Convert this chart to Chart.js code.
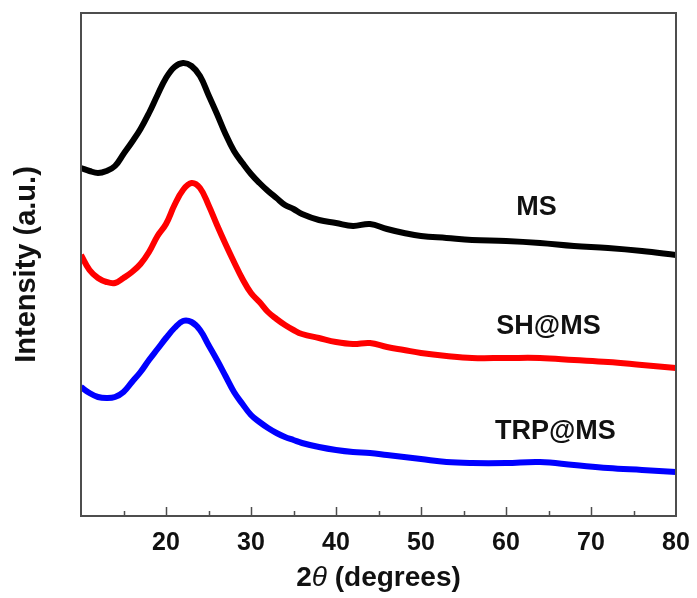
<!DOCTYPE html>
<html>
<head>
<meta charset="utf-8">
<script src="https://cdn.jsdelivr.net/npm/chart.js@4/dist/chart.umd.min.js"></script>
<style>
  html, body { margin: 0; padding: 0; background: #fff; }
  #wrap { width: 697px; height: 598px; }
</style>
</head>
<body>
<div id="wrap"><canvas id="xrdChart"></canvas></div>
<script>
// 2-theta positions (degrees) the curves were read at
const twoTheta = [10, 11, 12, 13, 14, 15, 16, 17, 18, 19, 20, 21, 22, 23, 24, 25, 26, 27, 28, 29,
                  30, 31, 32, 33, 34, 35, 36, 38, 40, 42, 44, 46, 48, 50, 53, 56, 60, 64, 68, 72, 76, 80];

// intensities (a.u., curves already offset as in the figure)
const msValues = [348, 345, 343, 345, 350, 362, 374, 387, 403, 421, 438, 449, 453, 450, 440, 421, 402, 382, 365, 353,
                  342, 333, 325, 318, 311, 307, 302, 296, 293, 290, 292, 287, 283, 280, 278, 276, 275, 273, 270, 268, 265, 261];
const shValues = [261, 246, 238, 234, 233, 238, 244, 252, 264, 280, 292, 311, 326, 333, 328, 311, 291, 272, 254, 237,
                  223, 214, 204, 197, 191, 186, 182, 178, 174, 172, 173, 169, 166, 163, 160, 158, 158, 158, 156, 154, 151, 148];
const trpValues = [129, 123, 119, 118, 119, 124, 134, 144, 156, 167, 178, 188, 195, 194, 186, 171, 156, 140, 124, 112,
                   101, 94, 88, 83, 79, 76, 73, 69, 66, 64, 63, 61, 59, 57, 54, 53, 53, 54, 51, 48, 46, 44];

const seriesNames = ['MS', 'SH@MS', 'TRP@MS'];
const seriesColors = ['#000000', '#ff0000', '#0000ff'];

const FONT = "'Liberation Sans', Arial, sans-serif";

function toPoints(values) {
    return twoTheta.map((t, i) => ({ x: t, y: values[i] }));
}

// frame, inward ticks, curve labels and the x title with italic theta
const decorations = {
    id: 'decorations',
    afterDatasetsDraw(chart) {
        const ctx = chart.ctx;
        const area = chart.chartArea;
        const xs = chart.scales.x;
        const ys = chart.scales.y;

        ctx.save();
        ctx.strokeStyle = '#4d4d4d';
        ctx.lineWidth = 2;
        ctx.strokeRect(area.left, area.top, area.right - area.left, area.bottom - area.top);

        ctx.lineWidth = 1.5;
        for (let v = 15; v < 80; v += 5) {
            const px = Math.round(xs.getPixelForValue(v)) + 0.5;
            const len = v % 10 === 0 ? 9 : 5;
            ctx.beginPath();
            ctx.moveTo(px, area.bottom);
            ctx.lineTo(px, area.bottom - len);
            ctx.stroke();
        }

        // curve labels
        const anchors = [[63.6, 308], [65.0, 189], [65.8, 84]];
        ctx.fillStyle = '#111';
        ctx.font = 'bold 27px ' + FONT;
        ctx.textAlign = 'center';
        ctx.textBaseline = 'middle';
        seriesNames.forEach((name, i) => {
            ctx.fillText(name, xs.getPixelForValue(anchors[i][0]), ys.getPixelForValue(anchors[i][1]));
        });

        // x axis title: "2θ (degrees)"
        const parts = [
            { text: '2', font: 'bold 28px ' + FONT },
            { text: '\u03B8', font: 'italic 28px ' + FONT },
            { text: ' (degrees)', font: 'bold 28px ' + FONT }
        ];
        let total = 0;
        parts.forEach(p => { ctx.font = p.font; p.w = ctx.measureText(p.text).width; total += p.w; });
        let x = (area.left + area.right) / 2 - total / 2;
        ctx.textAlign = 'left';
        ctx.textBaseline = 'alphabetic';
        parts.forEach(p => {
            ctx.font = p.font;
            ctx.fillText(p.text, x, 586);
            x += p.w;
        });
        ctx.restore();
    }
};

const ctx = document.getElementById('xrdChart').getContext('2d');
const xrdChart = new Chart(ctx, {
    type: 'line',
    data: {
        datasets: [
            { label: seriesNames[0], data: toPoints(msValues) },
            { label: seriesNames[1], data: toPoints(shValues) },
            { label: seriesNames[2], data: toPoints(trpValues) }
        ].map((d, i) => Object.assign(d, {
            borderColor: seriesColors[i],
            backgroundColor: seriesColors[i],
            borderWidth: 6,
            pointRadius: 0,
            tension: 0.4,
            fill: false
        }))
    },
    options: {
        responsive: true,
        maintainAspectRatio: false,
        animation: false,
        layout: { padding: { top: 13, right: 21, left: 0, bottom: 0 } },
        plugins: {
            legend: { display: false },
            tooltip: { enabled: false }
        },
        scales: {
            x: {
                type: 'linear',
                min: 10,
                max: 80,
                border: { display: false },
                grid: { display: false, drawTicks: false },
                ticks: {
                    stepSize: 10,
                    padding: 12,
                    color: '#111',
                    font: { family: FONT, size: 25, weight: 'bold' },
                    callback: v => (v === 10 ? '' : v)
                },
                afterFit: scale => {
                    scale.height = 82;
                    scale.paddingRight = 0;
                    scale.paddingLeft = 0;
                }
            },
            y: {
                min: 0,
                max: 503,
                border: { display: false },
                grid: { display: false, drawTicks: false },
                ticks: { display: false },
                title: {
                    display: true,
                    text: 'Intensity (a.u.)',
                    color: '#111',
                    padding: { top: 10, bottom: 0 },
                    font: { family: FONT, size: 29, weight: 'bold' }
                },
                afterFit: scale => { scale.width = 81; }
            }
        }
    },
    plugins: [decorations]
});
</script>
</body>
</html>
